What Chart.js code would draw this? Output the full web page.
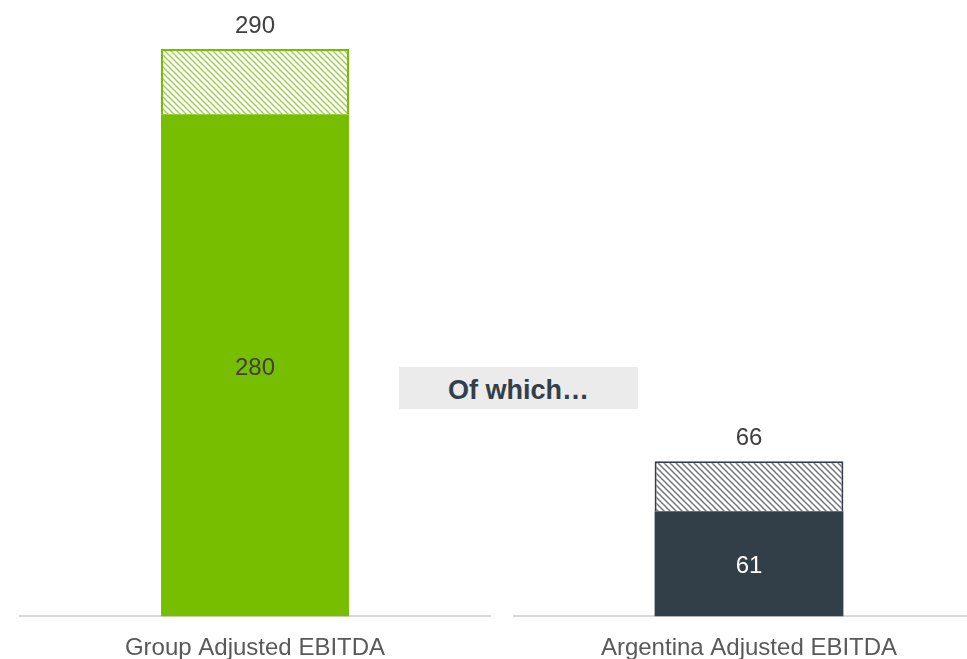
<!DOCTYPE html>
<html>
<head>
<meta charset="utf-8">
<script src="https://cdn.jsdelivr.net/npm/chart.js@4"></script>
<style>
  html, body { margin: 0; padding: 0; background: #ffffff; overflow: hidden; }
  body { width: 967px; height: 659px; position: relative; }
  canvas { position: absolute; top: 0; }
  #leftChart { left: 0; }
  #rightChart { left: 513px; }
  #ofWhich {
    position: absolute; left: 399px; top: 367px; width: 239px; height: 42px;
    background: #ebebeb; color: #333f48;
    font: bold 27px "Liberation Sans", Arial, sans-serif;
    line-height: 46px; text-align: center;
  }
</style>
</head>
<body>
<canvas id="leftChart" width="510" height="673"></canvas>
<canvas id="rightChart" width="472" height="673"></canvas>
<div id="ofWhich">Of which…</div>
<script>
// Chart data
const categories = ['Group Adjusted EBITDA', 'Argentina Adjusted EBITDA'];
const baseValues = [280, 61];     // solid part
const totalValues = [290, 66];    // top of hatched part
// y-axis ranges of the two (truncated) panels
const axisMin = [203, 50.5];
const axisMax = [290, 107.2];

const barColors = ['#78be00', '#333f48'];
const innerLabelColors = ['#404040', '#ffffff'];
const fontFamily = "'Liberation Sans', Arial, sans-serif";

// Diagonal hatch pattern
function makeHatch(color) {
    const size = 6;
    const c = document.createElement('canvas');
    c.width = size;
    c.height = size;
    const g = c.getContext('2d');
    g.fillStyle = '#ffffff';
    g.fillRect(0, 0, size, size);
    g.strokeStyle = color;
    g.globalAlpha = 0.7;
    g.lineWidth = 1.5;
    g.beginPath();
    g.moveTo(-1, -1); g.lineTo(size + 1, size + 1);
    g.moveTo(-1, size - 1); g.lineTo(1, size + 1);
    g.moveTo(size - 1, -1); g.lineTo(size + 1, 1);
    g.stroke();
    return g.createPattern(c, 'repeat');
}

// Draws total above the bar and base value inside the solid part
const valueLabels = {
    id: 'valueLabels',
    afterDatasetsDraw(chart, args, opts) {
        const ctx = chart.ctx;
        const area = chart.chartArea;
        const solid = chart.getDatasetMeta(0).data[0];
        const hatch = chart.getDatasetMeta(1).data[0];
        ctx.save();
        ctx.font = '24px ' + fontFamily;
        ctx.textAlign = 'center';
        ctx.textBaseline = 'middle';
        ctx.fillStyle = '#404040';
        ctx.fillText(String(opts.total), hatch.x, hatch.y - 23);
        ctx.fillStyle = opts.innerColor;
        const top = Math.max(solid.y, area.top);
        ctx.fillText(String(opts.base), solid.x, (top + area.bottom) / 2 + 3);
        ctx.restore();
    }
};

function createPanel(canvasId, i, padLeft, padRight) {
    const ctx = document.getElementById(canvasId);
    return new Chart(ctx, {
        type: 'bar',
        data: {
            labels: [categories[i]],
            datasets: [
                {
                    data: [baseValues[i]],
                    backgroundColor: barColors[i],
                    borderWidth: 0,
                    barPercentage: 0.4,
                    categoryPercentage: 1
                },
                {
                    data: [totalValues[i] - baseValues[i]],
                    backgroundColor: makeHatch(barColors[i]),
                    borderColor: barColors[i],
                    borderWidth: { top: 2, left: 2, right: 2, bottom: 0 },
                    borderSkipped: false,
                    barPercentage: 0.4,
                    categoryPercentage: 1
                }
            ]
        },
        options: {
            responsive: false,
            animation: false,
            layout: { padding: { top: 49, left: padLeft, right: padRight, bottom: 0 } },
            plugins: {
                legend: { display: false },
                tooltip: { enabled: false },
                valueLabels: {
                    total: totalValues[i],
                    base: baseValues[i],
                    innerColor: innerLabelColors[i]
                }
            },
            scales: {
                x: {
                    stacked: true,
                    grid: { display: false },
                    border: { display: true, color: '#d9d9d9', width: 2 },
                    ticks: {
                        color: '#595959',
                        padding: 10,
                        font: { family: fontFamily, size: 24 }
                    }
                },
                y: {
                    stacked: true,
                    display: false,
                    min: axisMin[i],
                    max: axisMax[i]
                }
            }
        },
        plugins: [valueLabels]
    });
}

createPanel('leftChart', 0, 20, 20);
createPanel('rightChart', 1, 0, 0);
</script>
</body>
</html>
